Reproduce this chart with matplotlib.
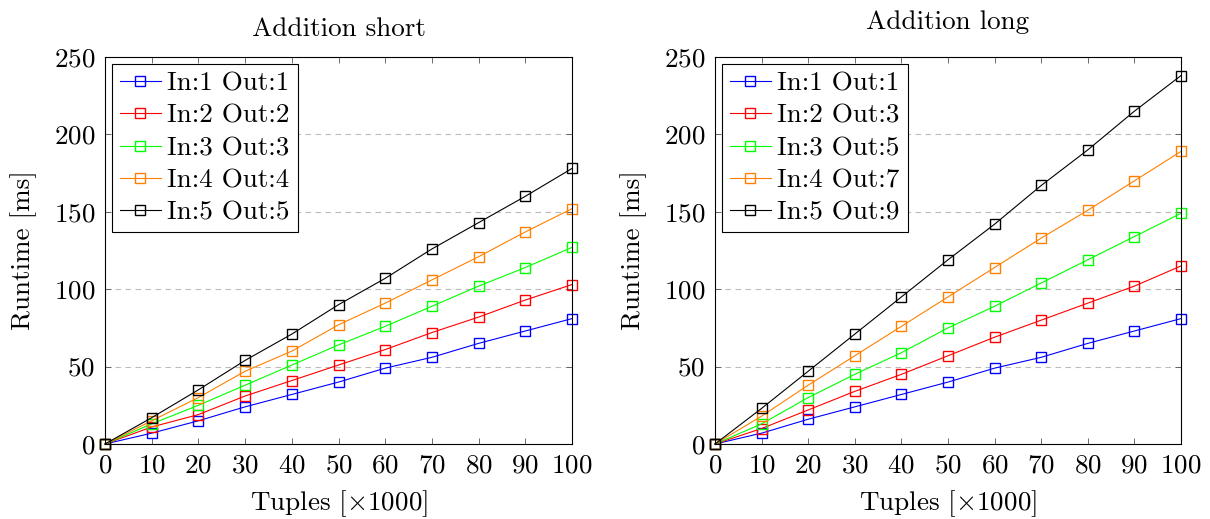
import matplotlib
matplotlib.use("Agg")
import matplotlib.pyplot as plt

plt.rcParams["font.family"] = ["cmr10", "DejaVu Serif"]
plt.rcParams["mathtext.fontset"] = "cm"
plt.rcParams["axes.formatter.use_mathtext"] = True

tuples = [0, 10, 20, 30, 40, 50, 60, 70, 80, 90, 100]

short_labels = ["In:1 Out:1", "In:2 Out:2", "In:3 Out:3", "In:4 Out:4", "In:5 Out:5"]
short_1 = [0, 7, 15, 24, 32, 40, 49, 56, 65, 73, 81]
short_2 = [0, 11, 19, 31, 41, 51, 61, 72, 82, 93, 103]
short_3 = [0, 13, 25, 38, 51, 64, 76, 89, 102, 114, 127]
short_4 = [0, 15, 30, 47, 60, 77, 91, 106, 121, 137, 152]
short_5 = [0, 17, 35, 54, 71, 90, 107, 126, 143, 160, 178]

long_labels = ["In:1 Out:1", "In:2 Out:3", "In:3 Out:5", "In:4 Out:7", "In:5 Out:9"]
long_1 = [0, 7, 16, 24, 32, 40, 49, 56, 65, 73, 81]
long_2 = [0, 10, 22, 34, 45, 57, 69, 80, 91, 102, 115]
long_3 = [0, 13, 30, 45, 59, 75, 89, 104, 119, 134, 149]
long_4 = [0, 18, 38, 57, 76, 95, 114, 133, 151, 170, 189]
long_5 = [0, 23, 47, 71, 95, 119, 142, 167, 190, 215, 238]

colors = ["#0000ff", "#ff0000", "#00ff00", "#ff8000", "#000000"]
FS = 19.5


def draw(ax, series, labels, title, title_pad):
    for vals, lab, col in zip(series, labels, colors):
        ax.plot(tuples, vals, color=col, linewidth=0.8, marker="s", markersize=7.5,
                markerfacecolor="none", markeredgewidth=1.0, label=lab, clip_on=False)
    ax.set_xlim(0, 100)
    ax.set_ylim(0, 250)
    ax.set_xticks(range(0, 101, 10))
    ax.set_yticks(range(0, 251, 50))
    ax.yaxis.grid(True, linestyle=(0, (5, 4)), color="#bbbbbb", linewidth=0.8)
    ax.set_axisbelow(True)
    ax.tick_params(direction="in", length=4, width=0.6, color="#555555",
                   top=True, right=True, labelsize=FS, pad=7)
    for s in ax.spines.values():
        s.set_linewidth(0.8)
    ax.set_xlabel(r"Tuples [$\times$1000]", fontsize=FS, labelpad=8)
    ax.set_ylabel("Runtime [ms]", fontsize=FS, labelpad=12)
    ax.set_title(title, fontsize=FS, pad=title_pad)
    leg = ax.legend(loc="upper left", fontsize=FS, fancybox=False, framealpha=1,
                    edgecolor="black", borderpad=0.3, labelspacing=0.3,
                    handlelength=1.5, handletextpad=0.25, borderaxespad=0.25)
    leg.get_frame().set_linewidth(0.8)


fig = plt.figure(figsize=(12.1, 5.19), dpi=100)
ax1 = fig.add_axes([105 / 1210, 75 / 519, 467 / 1210, 387 / 519])
ax2 = fig.add_axes([715 / 1210, 75 / 519, 466 / 1210, 387 / 519])

draw(ax1, [short_1, short_2, short_3, short_4, short_5], short_labels, "Addition short", 15)
draw(ax2, [long_1, long_2, long_3, long_4, long_5], long_labels, "Addition long", 20)

fig.savefig("out.png", dpi=100)
